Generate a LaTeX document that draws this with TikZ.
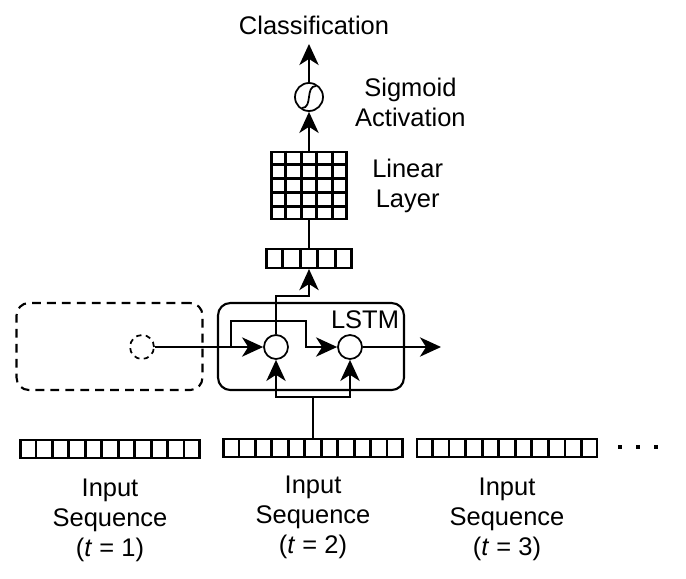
\documentclass[tikz,border=0pt]{standalone}
\usepackage{fontspec}
\setmainfont{Liberation Sans}
\usetikzlibrary{positioning, arrows.meta, calc}

\begin{document}
\begin{tikzpicture}[
  x=0.02cm, y=-0.02cm,
  font=\fontsize{14.5pt}{17pt}\selectfont,
  every node/.style={inner sep=0pt},
  arr/.style={draw, line width=1pt, -{Stealth[length=12pt,width=11pt,inset=3.5pt]}},
  wire/.style={draw, line width=1pt},
  gate/.style={circle, draw, line width=1pt, minimum size=0.48cm},
  cellbar/.style={draw, line width=1.2pt, minimum height=0.36cm},
  block/.style={draw, line width=1.2pt, rounded corners=7pt, minimum width=3.72cm, minimum height=1.74cm},
  dashline/.style={dash pattern=on 5pt off 3.5pt},
  txt/.style={align=center}
]
\useasboundingbox (0,0) rectangle (686,578);

% Input sequences
\node[cellbar, minimum width=3.58cm] (in1) at (110,449) {};
\node[cellbar, minimum width=3.58cm] (in2) at (313,448) {};
\node[cellbar, minimum width=3.6cm] (in3) at (507,448) {};
\foreach \b in {in1,in2,in3}
  \foreach \i in {1,...,10}
    \draw[line width=1.6pt] ($(\b.south west)!\i/11!(\b.south east)$) -- ($(\b.north west)!\i/11!(\b.north east)$);
\node[txt, below=0.4cm of in1] (lab1) {Input\\Sequence\\(\textit{t} = 1)};
\node[txt, below=0.36cm of in2] (lab2) {Input\\Sequence\\(\textit{t} = 2)};
\node[txt, below=0.4cm of in3] (lab3) {Input\\Sequence\\(\textit{t} = 3)};
\foreach \x in {620,638,656}
  \fill (\x-2,445) rectangle (\x+2,449);

% Previous step (dashed)
\node[block, dashline] (prev) at (109.5,346.5) {};
\node[gate, dash pattern=on 3pt off 2.5pt] (h0) at (142,347) {};

% LSTM cell
\node[block] (lstm) at (311,346.5) {};
\node (lstmlab) at (365,320) {LSTM};
\node[gate] (c1) at (276,347) {};
\node[gate] (c2) at (350,347) {};
\coordinate (split) at (231,347);
\coordinate (bypass) at (306,321);
\coordinate (out) at (441,347);
\coordinate (fork) at (313,397);
\coordinate (turn) at (309,296);
\draw[arr] (h0.east) -- (c1.west);
\draw[arr] (split) |- (bypass) |- (c2.west);
\draw[arr] (c2.east) -- (out);
\draw[wire] (in2.north) -- (fork);
\draw[arr] (fork) -| (c1.south);
\draw[arr] (fork) -| (c2.south);

% Output head
\node[cellbar, minimum width=1.7cm, minimum height=0.38cm] (vec) at (309,258.5) {};
\foreach \i in {1,...,4}
  \draw[line width=1.6pt] ($(vec.south west)!\i/5!(vec.south east)$) -- ($(vec.north west)!\i/5!(vec.north east)$);
\node[draw, line width=1.6pt, minimum width=1.5cm, minimum height=1.34cm] (lin) at (309,185.5) {};
\foreach \i in {1,...,4} {
  \draw[line width=1.6pt] ($(lin.north west)!\i/5!(lin.north east)$) -- ($(lin.south west)!\i/5!(lin.south east)$);
  \draw[line width=1.6pt] ($(lin.north west)!\i/5!(lin.south west)$) -- ($(lin.north east)!\i/5!(lin.south east)$);
}
\node[txt, right=0.48cm of lin] (linlab) {Linear\\Layer};
\node[gate, minimum size=0.56cm] (sig) at (309,97) {};
\draw[line width=1pt] ($(sig.center)+(-7,11)$) .. controls ($(sig.center)+(4,11)$) and ($(sig.center)+(-4,-11)$) .. ($(sig.center)+(7,-11)$);
\node[txt, right=0.62cm of sig, yshift=-3pt] (siglab) {Sigmoid\\Activation};
\node (cls) at (314,25) {Classification};
\coordinate (clsin) at (309,44);
\draw[arr] (c1.north) |- (turn) -- (vec.south);
\draw[wire] (vec.north) -- (lin.south);
\draw[arr] (lin.north) -- (sig.south);
\draw[arr] (sig.north) -- (clsin);

\end{tikzpicture}
\end{document}
